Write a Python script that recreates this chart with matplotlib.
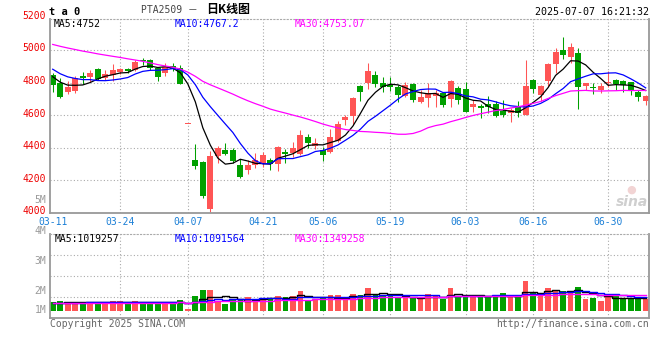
import matplotlib
matplotlib.use("Agg")
import matplotlib.pyplot as plt
import matplotlib.transforms as mtrans
import numpy as np
import pandas as pd

plt.rcParams["font.family"] = ["DejaVu Sans Mono", "Noto Sans CJK SC"]

# PTA2509 daily bars, 2025-03-11 .. 2025-07-07 (80 sessions)
opens = [4847, 4800, 4745, 4750, 4840, 4837, 4883, 4828, 4847, 4863,
         4883, 4877, 4938, 4938, 4892, 4858, 4904, 4887, 4548, 4325,
         4312, 4025, 4347, 4387, 4387, 4296, 4265, 4296, 4306, 4326,
         4300, 4377, 4371, 4363, 4469, 4414, 4387, 4377, 4443, 4572,
         4592, 4779, 4800, 4846, 4799, 4785, 4771, 4718, 4791, 4683,
         4704, 4718, 4734, 4697, 4765, 4758, 4650, 4656, 4667, 4669,
         4626, 4615, 4648, 4602, 4816, 4724, 4812, 4914, 5000, 4955,
         4980, 4781, 4773, 4755, 4795, 4816, 4810, 4805, 4744, 4690]
highs = [4861, 4828, 4810, 4840, 4867, 4877, 4890, 4877, 4914, 4892,
         4892, 4938, 4948, 4944, 4897, 4918, 4918, 4908, 4548, 4425,
         4318, 4378, 4408, 4432, 4398, 4332, 4326, 4367, 4373, 4336,
         4414, 4392, 4434, 4510, 4483, 4463, 4402, 4516, 4565, 4600,
         4710, 4785, 4922, 4873, 4832, 4832, 4785, 4805, 4795, 4754,
         4800, 4754, 4744, 4816, 4779, 4806, 4693, 4669, 4718, 4690,
         4693, 4642, 4690, 4940, 4820, 4785, 4918, 5010, 5078, 5041,
         5010, 4799, 4795, 4795, 4871, 4820, 4816, 4806, 4754, 4724]
lows = [4744, 4707, 4732, 4738, 4790, 4802, 4818, 4816, 4810, 4850,
        4858, 4871, 4905, 4878, 4810, 4838, 4868, 4790, 4548, 4270,
        4090, 4008, 4306, 4356, 4306, 4214, 4238, 4275, 4280, 4265,
        4255, 4306, 4346, 4356, 4397, 4393, 4320, 4367, 4435, 4540,
        4540, 4690, 4758, 4771, 4744, 4750, 4683, 4714, 4683, 4677,
        4650, 4652, 4648, 4648, 4669, 4620, 4622, 4580, 4615, 4588,
        4588, 4560, 4588, 4600, 4738, 4690, 4779, 4858, 4943, 4922,
        4637, 4754, 4728, 4738, 4775, 4754, 4744, 4724, 4689, 4663]
closes = [4785, 4712, 4770, 4830, 4830, 4860, 4822, 4853, 4877, 4883,
          4873, 4928, 4932, 4892, 4837, 4898, 4884, 4792, 4548, 4288,
          4102, 4350, 4397, 4362, 4317, 4222, 4296, 4326, 4353, 4300,
          4404, 4363, 4397, 4479, 4428, 4428, 4357, 4469, 4547, 4590,
          4705, 4745, 4871, 4792, 4771, 4771, 4725, 4785, 4693, 4714,
          4738, 4738, 4663, 4810, 4693, 4622, 4669, 4642, 4648, 4596,
          4602, 4632, 4616, 4779, 4759, 4779, 4914, 4990, 4970, 5016,
          4771, 4795, 4764, 4781, 4805, 4792, 4785, 4755, 4710, 4715]
# volume, millions of lots
volumes = [0.71, 0.80, 0.71, 0.71, 0.71, 0.71, 0.71, 0.71, 0.80, 0.80,
           0.60, 0.80, 0.60, 0.71, 0.71, 0.71, 0.71, 0.88, 0.14, 1.20,
           1.70, 1.70, 0.74, 0.55, 0.88, 0.88, 1.12, 0.88, 1.07, 1.07,
           1.20, 1.12, 1.20, 1.64, 0.88, 0.88, 1.01, 1.29, 1.29, 0.93,
           1.37, 1.29, 1.86, 1.37, 1.29, 1.20, 1.15, 1.01, 1.01, 1.01,
           1.37, 1.29, 0.93, 1.86, 1.20, 1.20, 1.15, 1.15, 1.15, 1.29,
           1.45, 1.15, 1.15, 2.43, 1.42, 1.29, 1.86, 1.64, 1.64, 1.48,
           1.94, 0.96, 1.07, 0.82, 1.15, 1.20, 0.93, 1.01, 1.01, 0.93]
# sessions before 03-11, only used to seed the moving averages
hist_closes = [5060, 5080, 5110, 5120, 5100, 5090, 5080, 5100, 5097, 5120,
               5150, 5170, 5180, 5160, 5140, 5130, 5120, 5114, 5060, 5020,
               4990, 4960, 4930, 4900, 4860, 4880, 4860, 4835, 4820]
hist_volumes = [0.62, 0.58, 0.60, 0.63, 0.57, 0.61, 0.59, 0.62, 0.60, 0.58,
                0.61, 0.60, 0.57, 0.61, 0.63, 0.59, 0.60, 0.62, 0.58, 0.60,
                0.61, 0.59, 0.57, 0.62, 0.60, 0.58, 0.61, 0.60, 0.59]

date_idx = [0, 9, 18, 28, 36, 45, 55, 64, 74]
date_labels = ["03-11", "03-24", "04-07", "04-21", "05-06",
               "05-19", "06-03", "06-16", "06-30"]
price_ticks = [4000, 4200, 4400, 4600, 4800, 5000, 5200]
vol_labels = ["5M", "4M", "3M", "2M", "1M"]

RED = "#ff5555"
GREEN = "#00a000"
GRID = "#aaaaaa"
EDGE = "#999999"
MA_COLORS = {5: "black", 10: "#0000ff", 30: "#ff00ff"}
W, H = 660, 360

fig = plt.figure(figsize=(W / 100, H / 100), dpi=100)


def px_box(x0, y0, x1, y1):
    return [x0 / W, 1 - y1 / H, (x1 - x0) / W, (y1 - y0) / H]


def ptext(x, y, s, **kw):
    fig.text(x / W, 1 - y / H, s, va="center", **kw)


ax = fig.add_axes(px_box(50, 19, 649.3, 213))
vax = fig.add_axes(px_box(50, 234.3, 649.3, 317.7))

x = np.arange(len(closes))
o = np.array(opens)
c = np.array(closes)
colors = np.where(c >= o, RED, GREEN)

# candles
ax.vlines(x, lows, highs, colors=colors, lw=0.75, zorder=2)
ax.bar(x, np.maximum(np.abs(c - o), 6), bottom=np.minimum(o, c),
       width=0.8, color=colors, lw=0, zorder=2)

all_c = pd.Series(hist_closes + closes)
all_v = pd.Series(hist_volumes + volumes)
k = len(hist_closes)
for win, col in MA_COLORS.items():
    ax.plot(x, all_c.rolling(win).mean().to_numpy()[k:], color=col, lw=0.9, zorder=3)

# volume
vax.bar(x, volumes, width=0.76, color=colors, lw=0, zorder=2)
for win, col in MA_COLORS.items():
    vax.plot(x, all_v.rolling(win).mean().to_numpy()[k:], color=col, lw=1.0,
             drawstyle="steps-mid", zorder=3)

ax.set_xlim(-0.36, 79.48)
ax.set_ylim(4000, 5190)
vax.set_xlim(-0.36, 79.48)
vax.set_ylim(-0.574, 6.262)

for a in (ax, vax):
    a.set_xticks(date_idx[1:])
    a.tick_params(length=0, labelleft=False, labelbottom=False)
    a.grid(True, ls=(0, (1, 2)), color=GRID, lw=0.8)
    a.set_axisbelow(True)
    for side in ("left", "right", "bottom"):
        a.spines[side].set_color(EDGE)
        a.spines[side].set_linewidth(1.3)
    a.spines["top"].set_color(GRID)
    a.spines["top"].set_linestyle((0, (1, 2)))
    a.spines["top"].set_linewidth(0.8)
ax.set_yticks(price_ticks[1:-1])
vax.set_yticks([-0.574 + 6.836 * f for f in (0.25, 0.5, 0.75)])

# price labels
btr = mtrans.blended_transform_factory(ax.transAxes, ax.transData)
for p in price_ticks:
    ax.text(-0.007, p + 10, str(p), transform=btr, ha="right", va="center",
            color="#ee0000", fontsize=7, clip_on=False)

# date labels
dtr = mtrans.blended_transform_factory(ax.transData, ax.transAxes)
for i, lab in zip(date_idx, date_labels):
    ax.text(max(i, -0.36), -0.045, lab, transform=dtr, ha="center", va="center",
            color="#1b7fd6", fontsize=7, clip_on=False)

# volume axis labels
for lab, yy in zip(vol_labels, [200, 231, 261, 291, 310]):
    ptext(46.5, yy, lab, ha="right", color="#999999", fontsize=7)

# header texts
ptext(49, 12, "t a 0", ha="left", color="black", fontsize=7.5, weight="bold")
ptext(141, 10, "PTA2509 －", ha="left", color="#444444", fontsize=7)
ptext(206, 10, "日K线图", ha="left", color="black", fontsize=8.6,
      family=["Noto Sans CJK SC"], weight="bold")
ptext(649, 12, "2025-07-07 16:21:32", ha="right", color="black", fontsize=7.2)

ptext(54, 24, "MA5:4752", ha="left", color="black", fontsize=7)
ptext(175, 24, "MA10:4767.2", ha="left", color="#0000ff", fontsize=7)
ptext(295, 24, "MA30:4753.07", ha="left", color="#ff00ff", fontsize=7)

ptext(54.5, 238.7, "MA5:1019257", ha="left", color="black", fontsize=7)
ptext(175, 238.7, "MA10:1091564", ha="left", color="#0000ff", fontsize=7)
ptext(295, 238.7, "MA30:1349258", ha="left", color="#ff00ff", fontsize=7)

ptext(50, 324, "Copyright 2025 SINA.COM", ha="left", color="#666666", fontsize=7)
ptext(649, 324, "http://finance.sina.com.cn", ha="right", color="#666666", fontsize=7)

# sina watermark
ptext(632, 202, "sina", ha="center", color="#cfcfcf", fontsize=10,
      style="italic", weight="bold", family=["DejaVu Sans"])
ptext(631, 190, "●", ha="center", color="#f2d4d4", fontsize=8, family=["DejaVu Sans"])

fig.savefig("out.png", dpi=100)
